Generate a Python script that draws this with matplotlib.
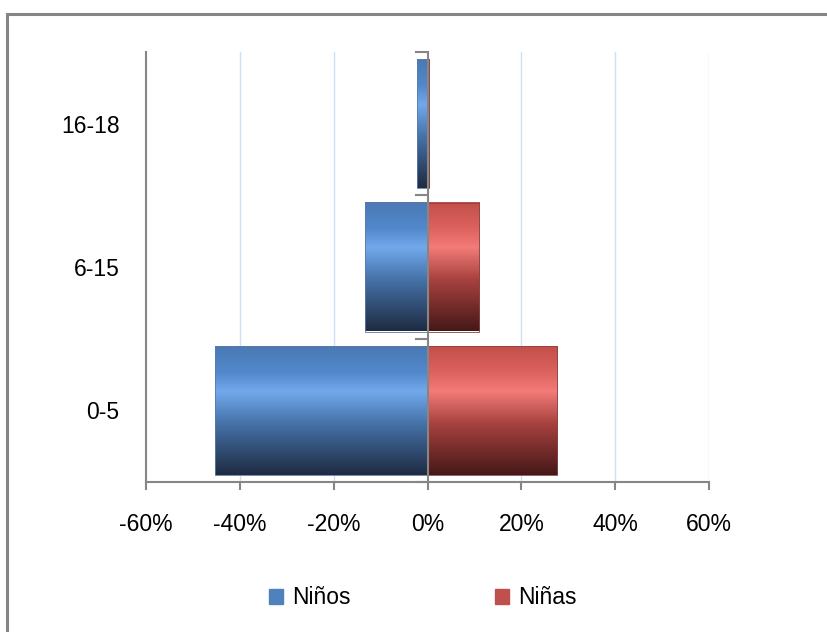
import numpy as np
import matplotlib
matplotlib.use("Agg")
import matplotlib.pyplot as plt
from matplotlib.colors import LinearSegmentedColormap
from matplotlib.patches import Rectangle

# data (percent)
categories = ["0-5", "6-15", "16-18"]
ninos = [-45.2, -13.4, -2.3]
ninas = [27.6, 10.9, 0.3]
xticks = [-60, -40, -20, 0, 20, 40, 60]

plt.rcParams['font.family'] = ['Liberation Sans', 'DejaVu Sans']

GRAY = "#868686"
GRID = "#cddff4"
FS = 16.5

# vertical gradients (top -> bottom), Excel style
blue_cm = LinearSegmentedColormap.from_list(
    "b", [(0, "#4a79b5"), (0.2, "#5288cb"), (0.35, "#72a9ec"),
          (0.6, "#4672a9"), (1, "#1e2b42")])
red_cm = LinearSegmentedColormap.from_list(
    "r", [(0, "#c24f4b"), (0.2, "#dc625e"), (0.35, "#f37b78"),
          (0.6, "#a8423f"), (1, "#451818")])

fig = plt.figure(figsize=(8.27, 6.32), dpi=100)
ax = fig.add_axes([146/827, 1-482/632, (709-146)/827, (482-52)/632])

y = np.arange(len(categories))
h = 0.9
bars_b = ax.barh(y, ninos, height=h, facecolor="none", edgecolor="none", label="Niños")
bars_r = ax.barh(y, ninas, height=h, facecolor="none", edgecolor="none", label="Niñas")

grad = np.linspace(0, 1, 256).reshape(-1, 1)
for bars, cm, ec in [(bars_b, blue_cm, "#5b7aa3"), (bars_r, red_cm, "#8a4442")]:
    for p in bars:
        x0, y0 = p.get_x(), p.get_y()
        w, hh = p.get_width(), p.get_height()
        if w == 0:
            continue
        ax.imshow(grad, cmap=cm, aspect="auto", origin="upper",
                  extent=(x0, x0 + w, y0, y0 + hh), zorder=2, interpolation="bilinear")
        ax.add_patch(Rectangle((x0, y0), w, hh, fill=False, edgecolor=ec, lw=0.6, zorder=3))

ax.set_xlim(-60, 60)
ax.set_ylim(-0.5, len(categories) - 0.5)

# gridlines
for xv in xticks:
    if xv not in (-60, 0):
        ax.axvline(xv, color=GRID, lw=1.0, zorder=0)

# zero axis with category boundary ticks
ax.axvline(0, color=GRAY, lw=1.5, zorder=4)
for b in np.arange(len(categories) + 1) - 0.5:
    ax.plot([-2.4, 0], [b, b], color=GRAY, lw=1.5, zorder=4, clip_on=False)

ax.set_xticks(xticks)
ax.set_xticklabels([f"{v}%" for v in xticks])
ax.set_yticks(y)
ax.set_yticklabels(categories)
ax.tick_params(axis="x", direction="out", length=6, width=1.5, color=GRAY, pad=16, labelsize=FS)
ax.tick_params(axis="y", length=0, pad=19, labelsize=FS)
for t in ax.get_yticklabels():
    t.set_y(t.get_position()[1])
ax.yaxis.set_tick_params(labelleft=True)

for s in ["top", "right"]:
    ax.spines[s].set_visible(False)
for s in ["left", "bottom"]:
    ax.spines[s].set_color(GRAY)
    ax.spines[s].set_linewidth(1.5)

# legend
handles = [Rectangle((0, 0), 1, 1, color="#4f81bd"), Rectangle((0, 0), 1, 1, color="#c0504d")]
fig.legend(handles, ["Niños", "Niñas"], loc="center", bbox_to_anchor=(423/827, 1-598/632),
           ncol=2, frameon=False, fontsize=FS, handlelength=0.62, handleheight=0.62,
           handletextpad=0.4, columnspacing=6.3)

# chart border (clipped at right and bottom like the source)
fig.patches.append(Rectangle((6.5/827, -0.1), 1.2, 1 - 13.5/632 + 0.1, transform=fig.transFigure,
                             fill=False, edgecolor=GRAY, lw=2.2))

fig.savefig("out.png", dpi=100)
